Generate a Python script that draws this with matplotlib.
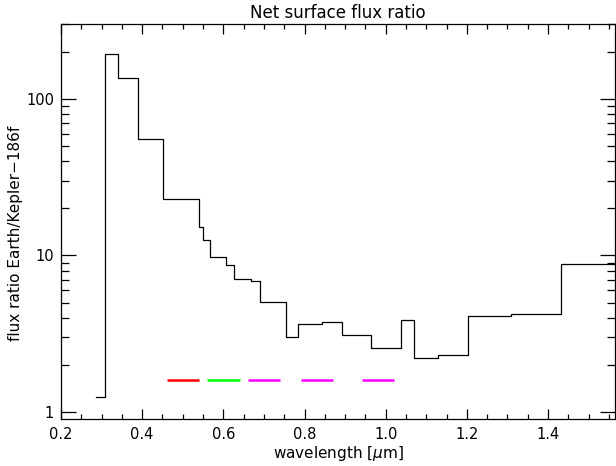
import numpy as np
import matplotlib
matplotlib.use("Agg")
import matplotlib.pyplot as plt
from matplotlib.ticker import LogLocator, NullFormatter, FixedLocator, MultipleLocator

# bin edges (micron) and flux ratio per bin
edges = [0.286, 0.3076, 0.3397, 0.390, 0.4504, 0.5399, 0.5505, 0.5677, 0.6057,
         0.6254, 0.6672, 0.691, 0.7534, 0.7837, 0.8429, 0.892, 0.9628, 1.0367,
         1.070, 1.130, 1.203, 1.3084, 1.4315, 1.565]
ratio = [1.24, 194.6, 135.5, 55.3, 22.9, 15.3, 12.56, 9.74, 8.65, 7.11, 6.84,
         5.02, 3.01, 3.67, 3.76, 3.10, 2.56, 3.89, 2.21, 2.31, 4.09, 4.21, 8.83]

# filter bands drawn near the bottom
band_lo = [0.461, 0.560, 0.661, 0.791, 0.941]
band_hi = [0.540, 0.640, 0.740, 0.870, 1.020]
band_col = ['#ff0000', '#00ff00', '#ff00ff', '#ff00ff', '#ff00ff']
band_y = 1.6

plt.rcParams['font.family'] = 'DejaVu Sans'
fig = plt.figure(figsize=(6.16, 4.66), dpi=100)
ax = fig.add_axes([0.099, 0.1009, 0.8994, 0.8476])

yy = list(ratio) + [ratio[-1]]
ax.step(edges, yy, where='post', color='black', lw=0.9)
for lo, hi, c in zip(band_lo, band_hi, band_col):
    ax.plot([lo, hi], [band_y, band_y], color=c, lw=1.8, solid_capstyle='butt')

ax.set_yscale('log')
ax.set_xlim(0.2, 1.565)
ax.set_ylim(0.902, 301)

ax.xaxis.set_major_locator(MultipleLocator(0.2))
ax.xaxis.set_minor_locator(MultipleLocator(0.05))
ax.xaxis.set_major_formatter(plt.FuncFormatter(lambda v, p: '%.1f' % v))
ax.yaxis.set_major_locator(FixedLocator([1, 10, 100]))
ax.yaxis.set_major_formatter(plt.FuncFormatter(lambda v, p: '%d' % v))
ax.yaxis.set_minor_locator(LogLocator(base=10, subs=np.arange(2, 10)))
ax.yaxis.set_minor_formatter(NullFormatter())

ax.tick_params(axis='both', which='both', direction='in', top=True, right=True,
               width=0.9, labelsize=10.5, colors='black')
ax.tick_params(axis='x', which='major', length=7, pad=6)
ax.tick_params(axis='x', which='minor', length=3.5)
ax.tick_params(axis='y', which='major', length=11, pad=5)
ax.tick_params(axis='y', which='minor', length=6)
for s in ax.spines.values():
    s.set_linewidth(0.9)

ax.set_title('Net surface flux ratio', fontsize=12, pad=4)
ax.set_xlabel('wavelength [$\\mu$m]', fontsize=11, labelpad=1)
ax.set_ylabel('flux ratio Earth/Kepler\u2212186f', fontsize=11)
ax.yaxis.set_label_coords(-0.068, 0.47)

fig.savefig('out.png', dpi=100)
